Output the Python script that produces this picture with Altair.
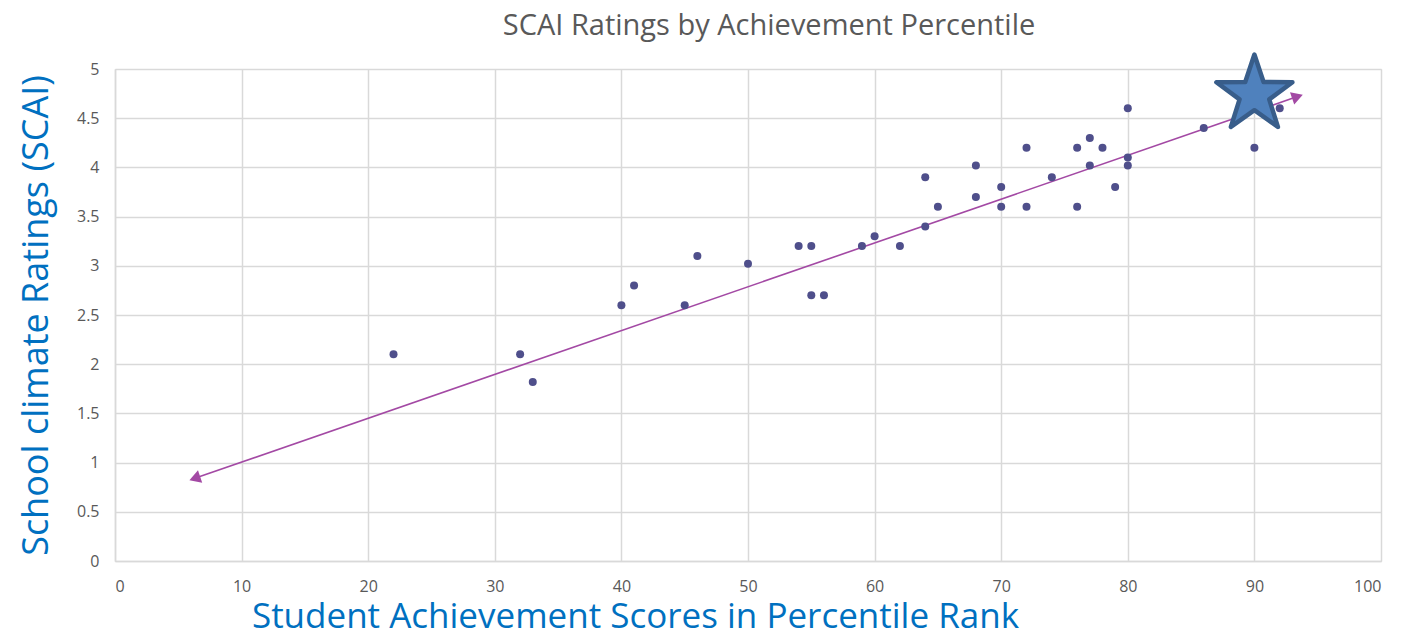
import altair as alt
import pandas as pd

# Data
pct = [22, 32, 33, 40, 41, 45, 46, 50, 54, 55, 55, 56, 59, 60, 62, 64, 64, 65,
       68, 68, 70, 70, 72, 72, 74, 76, 76, 77, 77, 78, 79, 80, 80, 80, 86, 90, 92]
scai = [2.1, 2.1, 1.82, 2.6, 2.8, 2.6, 3.1, 3.02, 3.2, 3.2, 2.7, 2.7, 3.2, 3.3, 3.2, 3.4, 3.9, 3.6,
        4.02, 3.7, 3.8, 3.6, 4.2, 3.6, 3.9, 4.2, 3.6, 4.3, 4.02, 4.2, 3.8, 4.6, 4.1, 4.02, 4.4, 4.2, 4.6]

trend_x = [6.3, 93.4]
trend_y = [0.84, 4.72]

star_x = [90]
star_y = [4.74]

x_ticks = list(range(0, 101, 10))
y_ticks = [i * 0.5 for i in range(11)]

pts = pd.DataFrame({"x": pct, "y": scai})
trend = pd.DataFrame({"x": trend_x, "y": trend_y})
left_head = pd.DataFrame({"x": trend_x[:1], "y": trend_y[:1]})
right_head = pd.DataFrame({"x": trend_x[1:], "y": trend_y[1:]})
star = pd.DataFrame({"x": star_x, "y": star_y})

FONT = "Open Sans"
GRID = "#d9d9d9"
LABEL = "#595959"
BLUE = "#0070C0"

STAR_PATH = ("M0,-1L0.229,-0.316L0.951,-0.309L0.371,0.121L0.588,0.809L0,0.39"
             "L-0.588,0.809L-0.371,0.121L-0.951,-0.309L-0.229,-0.316Z")

xenc = alt.X("x:Q", scale=alt.Scale(domain=[0, 100], nice=False),
             axis=alt.Axis(values=x_ticks, title="Student Achievement Scores in Percentile Rank",
                           grid=True, ticks=False, labelPadding=17, titlePadding=5, titleX=520,
                           labelFontSize=16, labelColor=LABEL, labelFont=FONT,
                           titleFontSize=35, titleColor=BLUE, titleFont=FONT, titleFontWeight="normal",
                           domainColor=GRID, gridColor=GRID, gridWidth=1.5, domainWidth=1.5))
yenc = alt.Y("y:Q", scale=alt.Scale(domain=[0, 5], nice=False),
             axis=alt.Axis(values=y_ticks, title="School climate Ratings (SCAI)",
                           format="~g",
                           grid=True, ticks=False, labelPadding=16, titlePadding=21,
                           labelFontSize=16, labelColor=LABEL, labelFont=FONT,
                           titleFontSize=36, titleColor=BLUE, titleFont=FONT, titleFontWeight="normal",
                           domainColor=GRID, gridColor=GRID, gridWidth=1.5, domainWidth=1.5))

line = alt.Chart(trend).mark_line(color="#A349A4", strokeWidth=1.6).encode(x=xenc, y=yenc)
lh = alt.Chart(left_head).mark_point(shape="triangle-left", angle=341, size=170, filled=True,
                                     color="#A349A4", opacity=1).encode(x=xenc, y=yenc)
rh = alt.Chart(right_head).mark_point(shape="triangle-right", angle=341, size=170, filled=True,
                                      color="#A349A4", opacity=1).encode(x=xenc, y=yenc)
dots = alt.Chart(pts).mark_circle(size=64, color="#4F4F8B", opacity=1).encode(x=xenc, y=yenc)
st = alt.Chart(star).mark_point(shape=STAR_PATH, size=6400, filled=True, fill="#4F81BD",
                                stroke="#385D8A", strokeWidth=4.5, opacity=1,
                                strokeJoin="round").encode(x=xenc, y=yenc)

chart = alt.layer(line, lh, rh, dots, st).properties(
    width=1266, height=492,
    title=alt.TitleParams("SCAI Ratings by Achievement Percentile", font=FONT, fontSize=29,
                          fontWeight="normal", color=LABEL, offset=11, dx=21),
    autosize=alt.AutoSizeParams(type="none"),
    padding={"left": 107, "top": 61, "right": 16, "bottom": 69},
).configure_view(stroke=None).configure(background="white")

chart.save("out.html", embed_options={"renderer": "svg", "actions": False})
